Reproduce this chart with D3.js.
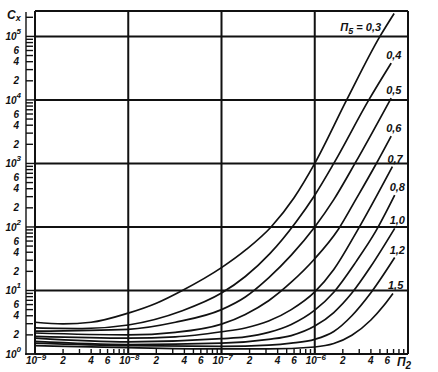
<!DOCTYPE html>
<html>
<head>
<meta charset="utf-8">
<script src="https://cdn.jsdelivr.net/npm/d3@7"></script>
<style>
  body { margin: 0; background: #fff; }
  svg text { font-family: "Liberation Sans", Arial, sans-serif; font-style: italic; font-weight: bold; fill: #111; }
</style>
</head>
<body>
<svg width="438" height="372"></svg>
<script>
// curve values: [П2, Cx]
let c03 = [[1e-9, 3.16], [2e-9, 2.99], [4e-9, 3.16], [1e-8, 4.4], [2e-8, 6.3], [3.8e-8, 10], [1e-7, 22.9], [1.86e-7, 44.7], [3.4e-7, 100], [6e-7, 288], [1e-6, 1000], [2.2e-6, 1e4], [5e-6, 1e5], [7.1e-6, 2.3e5]]
let c04 = [[1e-9, 2.57], [3.2e-9, 2.51], [1e-8, 2.86], [3.8e-8, 4.8], [1e-7, 9.1], [1.8e-7, 16.6], [3.3e-7, 38], [6.3e-7, 120], [1e-6, 316], [1.6e-6, 1000], [3.8e-6, 1e4], [6.6e-6, 3.8e4]]
let c05 = [[1e-9, 2.29], [1e-8, 2.45], [3.2e-8, 3.16], [1e-7, 5.0], [1.8e-7, 7.9], [3.2e-7, 15.8], [5.6e-7, 36], [1e-6, 100], [1.6e-6, 269], [2.7e-6, 1000], [6.6e-6, 1.07e4]]
let c06 = [[1e-9, 2.14], [1e-8, 2.0], [3.2e-8, 2.19], [1e-7, 2.95], [1.8e-7, 4.2], [3.2e-7, 6.9], [5.6e-7, 13.5], [1e-6, 31.6], [1.8e-6, 93], [2.8e-6, 282], [4.5e-6, 955], [6.6e-6, 2700]]
let c07 = [[1e-9, 1.9], [1e-8, 1.78], [3.2e-8, 1.86], [1e-7, 2.24], [1.8e-7, 2.57], [3.2e-7, 3.3], [5.6e-7, 5.0], [1e-6, 9.5], [1.6e-6, 21.4], [2.8e-6, 83], [6.8e-6, 890]]
let c08 = [[1e-9, 1.78], [1e-8, 1.55], [1e-7, 1.74], [1.8e-7, 1.86], [3.2e-7, 2.19], [5.6e-7, 2.92], [1e-6, 4.9], [1.6e-6, 9.4], [2.8e-6, 29], [4.5e-6, 85], [7.2e-6, 316]]
let c10 = [[1e-9, 1.58], [1e-8, 1.41], [1e-7, 1.48], [3.2e-7, 1.7], [5.6e-7, 1.95], [1e-6, 2.75], [1.6e-6, 4.5], [2.5e-6, 9.1], [4e-6, 24], [7.2e-6, 95]]
let c12 = [[1e-9, 1.48], [1e-8, 1.35], [1e-7, 1.32], [3.2e-7, 1.38], [5.6e-7, 1.48], [1e-6, 1.7], [1.6e-6, 2.26], [2.5e-6, 4.0], [4e-6, 9.2], [7.2e-6, 33]]
let c15 = [[1e-9, 1.35], [1e-8, 1.26], [1e-7, 1.2], [3.2e-7, 1.2], [1e-6, 1.29], [1.6e-6, 1.46], [2.5e-6, 1.97], [4e-6, 3.43], [5.5e-6, 5.8], [6.9e-6, 9.0]]

let curves = [c03, c04, c05, c06, c07, c08, c10, c12, c15]
let pi5 = ["0,3", "0,4", "0,5", "0,6", "0,7", "0,8", "1,0", "1,2", "1,5"]

let xDecades = [-9, -8, -7, -6]
let yDecades = [0, 1, 2, 3, 4, 5]
let mults = [1, 2, 3, 4, 5, 6, 7, 8, 9]
let labelMults = [2, 4, 6]

let svg = d3.select("svg")
let x = d3.scaleLog().domain([1e-9, 1e-5]).range([35, 408])
let y = d3.scaleLog().domain([1, Math.pow(10, 5.4)]).range([354, 11])
let yTop = Math.pow(10, 5.4)

// grid + frame
let g = svg.append("g").attr("stroke", "#111").attr("stroke-width", 2).attr("fill", "none")
xDecades.concat([-5]).forEach((d) => {
    g.append("line").attr("x1", x(Math.pow(10, d))).attr("x2", x(Math.pow(10, d)))
     .attr("y1", y(yTop)).attr("y2", y(1))
})
yDecades.forEach((d) => {
    g.append("line").attr("x1", x(1e-9)).attr("x2", x(1e-5))
     .attr("y1", y(Math.pow(10, d))).attr("y2", y(Math.pow(10, d)))
})
g.append("line").attr("x1", x(1e-9)).attr("x2", x(1e-5)).attr("y1", y(yTop)).attr("y2", y(yTop))

// left scale
let ax = 26
let la = svg.append("g").attr("stroke", "#111").attr("stroke-width", 1.4)
la.append("line").attr("x1", ax).attr("x2", ax).attr("y1", y(yTop) + 1).attr("y2", y(1) + 1)
la.append("line").attr("x1", ax - 1).attr("x2", x(1e-9)).attr("y1", y(1)).attr("y2", y(1))
yDecades.forEach((d) => {
    mults.forEach((m) => {
        let v = m * Math.pow(10, d)
        if (v > yTop) return
        la.append("line").attr("x1", ax).attr("x2", m == 1 ? x(1e-9) : ax + 7)
          .attr("y1", y(v)).attr("y2", y(v))
    })
})

let lt = svg.append("g").attr("font-size", 10)
yDecades.forEach((d) => {
    let t = lt.append("text").attr("x", 21).attr("y", y(Math.pow(10, d)) + 4).attr("text-anchor", "end")
    t.append("tspan").text("10")
    t.append("tspan").attr("dy", -6).attr("font-size", 8).text(d)
    if (d < 5) {
        labelMults.forEach((m) => {
            lt.append("text").attr("x", 19).attr("y", y(m * Math.pow(10, d)) + 3.5)
              .attr("text-anchor", "end").text(m)
        })
    }
})
let cx = lt.append("text").attr("x", 7).attr("y", 19).attr("font-size", 12)
cx.append("tspan").text("C")
cx.append("tspan").attr("dy", 2).attr("font-size", 9).text("x")

// bottom scale
let ba = svg.append("g").attr("stroke", "#111").attr("stroke-width", 1.4)
xDecades.forEach((d) => {
    mults.forEach((m) => {
        let v = m * Math.pow(10, d)
        ba.append("line").attr("x1", x(v)).attr("x2", x(v)).attr("y1", y(1)).attr("y2", y(1) - 5)
    })
})
xDecades.forEach((d) => {
    let t = lt.append("text").attr("x", x(Math.pow(10, d)) + 1).attr("y", 364).attr("text-anchor", "middle")
    t.append("tspan").text("10")
    t.append("tspan").attr("dy", -4).attr("font-size", 8).text("\u2212" + (-d))
    labelMults.forEach((m) => {
        lt.append("text").attr("x", x(m * Math.pow(10, d))).attr("y", 364)
          .attr("text-anchor", "middle").text(m)
    })
})
let p2 = lt.append("text").attr("x", x(1e-5) - 4).attr("y", 366).attr("font-size", 12).attr("text-anchor", "middle")
p2.append("tspan").text("П")
p2.append("tspan").attr("dy", 3).attr("font-size", 10).text("2")

// curves
let line = d3.line().x((d) => x(d[0])).y((d) => y(d[1])).curve(d3.curveMonotoneX)
svg.append("g").selectAll("path")
   .data(curves)
   .enter().append("path")
   .attr("d", line)
   .attr("fill", "none")
   .attr("stroke", "#111")
   .attr("stroke-width", 1.7)

// curve labels
let cl = svg.append("g").attr("font-size", 11)
curves.forEach((c, i) => {
    let end = c[c.length - 1]
    if (i == 0) {
        let t = cl.append("text").attr("x", x(end[0]) - 13).attr("y", 31).attr("text-anchor", "end")
        t.append("tspan").text("П")
        t.append("tspan").attr("dy", 3).attr("font-size", 9).text("5")
        t.append("tspan").attr("dy", -3).text(" = " + pi5[i])
    } else {
        cl.append("text").attr("x", x(end[0]) - 5).attr("y", y(end[1]) - 4).text(pi5[i])
    }
})
</script>
</body>
</html>
